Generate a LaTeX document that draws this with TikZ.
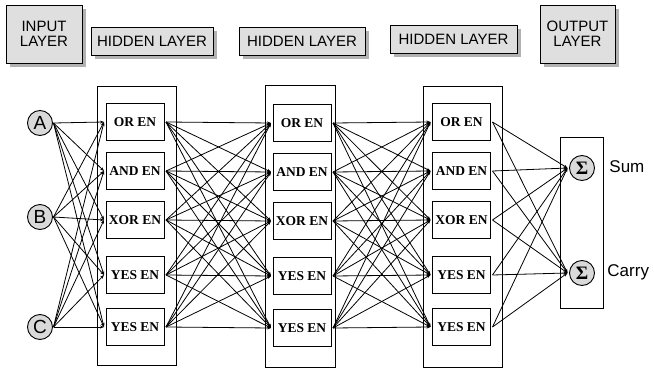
\documentclass[tikz,border=0pt]{standalone}
\usepackage{fontspec}
\setmainfont{Liberation Serif}
\setsansfont{Liberation Sans}
\usetikzlibrary{arrows.meta,shadows}
\begin{document}
\begin{tikzpicture}[x=1pt, y=-1pt, line width=0.9pt,
	hdr/.style = {draw, fill=gray!25, inner sep=0pt, align=center, font=\sffamily\fontsize{15}{15.5}\selectfont,
		drop shadow={shadow xshift=4pt, shadow yshift=-4pt, fill=gray!60, opacity=1}},
	layer/.style = {draw, inner sep=0pt, minimum width=79pt},
	en/.style = {draw, fill=white, inner sep=0pt, outer sep=2pt, minimum width=58pt, minimum height=37pt, font=\bfseries\fontsize{13.5}{14}\selectfont},
	inp/.style = {draw, circle, fill=gray!30, inner sep=0pt, minimum size=25pt, outer sep=1pt, font=\sffamily\fontsize{19}{19}\selectfont},
	sig/.style = {draw, circle, fill=gray!30, inner sep=0pt, minimum size=25pt, outer sep=2pt, font=\bfseries\fontsize{19}{19}\selectfont},
	arr/.style = {-{Stealth[length=4pt,width=3pt]}, line width=0.8pt}]
	
	\useasboundingbox (0,0) rectangle (654,369);
	
	% layer headings
	\node[hdr, minimum width=76pt, minimum height=58pt] (hin) at (44,34) {INPUT\\LAYER};
	\node[hdr, minimum width=122pt, minimum height=28pt] (h1) at (152,41) {HIDDEN LAYER};
	\node[hdr, minimum width=126pt, minimum height=28pt] (h2) at (302,41) {HIDDEN LAYER};
	\node[hdr, minimum width=127pt, minimum height=28pt] (h3) at (453.5,39) {HIDDEN LAYER};
	\node[hdr, minimum width=75pt, minimum height=58pt] (hout) at (577.5,34) {OUTPUT\\LAYER};
	
	% layer frames
	\node[layer, minimum height=279pt] (l1) at (136.5,225.5) {};
	\node[layer, minimum width=70pt, minimum height=282pt] (l2) at (300,226) {};
	\node[layer, minimum height=281pt] (l3) at (462.5,226.5) {};
	\node[layer, minimum width=43pt, minimum height=171pt] (lo) at (581.5,222.5) {};
	
	% inputs
	\node[inp] (a) at (40,123) {A};
	\node[inp] (b) at (40,217) {B};
	\node[inp] (c) at (40,327) {C};
	
	% hidden nodes
	\foreach \t/\y [count=\i] in {OR EN/122, AND EN/171, XOR EN/220, YES EN/275, YES EN/327}{
		\node[en] (p\i) at (135,\y) {\t};
		\node[en] (q\i) at (302,\y+1) {\t};
		\node[en] (r\i) at (461.5,\y) {\t};
	}
	
	% outputs
	\node[sig] (s1) at (582,168) {Σ};
	\node[sig] (s2) at (582,273) {Σ};
	\node[anchor=west, inner sep=0pt, font=\sffamily\fontsize{17}{17}\selectfont] (sum) at (609,167) {Sum};
	\node[anchor=west, inner sep=0pt, font=\sffamily\fontsize{17}{17}\selectfont] (carry) at (607,272) {Carry};
	
	% connections
	\foreach \s in {a,b,c}
		\foreach \i in {1,...,5}
			\draw[arr] (\s.east) -- (p\i.west);
	\foreach \i in {1,...,5}
		\foreach \j in {1,...,5}{
			\draw[arr] (p\i.east) -- (q\j.west);
			\draw[arr] (q\i.east) -- (r\j.west);
		}
	\foreach \i in {1,...,5}{
		\draw[arr] (r\i.east) -- (s1.west);
		\draw[arr] (r\i.east) -- (s2.west);
	}
\end{tikzpicture}
\end{document}
